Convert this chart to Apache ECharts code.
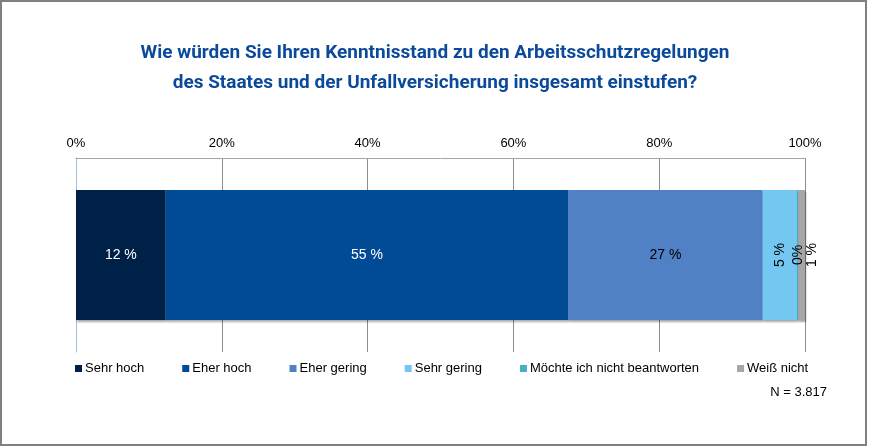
<!DOCTYPE html>
<html>
<head>
    <meta charset="UTF-8" />
    <title>Kenntnisstand</title>
    <script src="https://cdn.jsdelivr.net/npm/echarts@6/dist/echarts.min.js"></script>
    <style>
        html, body { margin: 0; padding: 0; background: #fff; }
        #main { width: 870px; height: 447px; }
    </style>
</head>
<body>
    <div id="main"></div>
    <script>
    var categories = ['Gesamt'];
    var seriesNames = ['Sehr hoch', 'Eher hoch', 'Eher gering', 'Sehr gering', 'Möchte ich nicht beantworten', 'Weiß nicht'];
    var seriesValues = [12.3, 55.2, 26.7, 4.7, 0.2, 0.9];
    var labelTexts = ['12 %', '55 %', '27 %', '5 %', '0%', '1 %'];
    var colors = ['#002147', '#004A96', '#4F81C4', '#74C7F0', '#4BACC6', '#A6A6A6'];
    var labelColors = ['#ffffff', '#ffffff', '#000000', '#000000', '#000000', '#000000'];
    var tickLabels = ['0%', '20%', '40%', '60%', '80%', '100%'];

    var font = '"Liberation Sans", Arial, sans-serif';
    var myChart = echarts.init(document.getElementById('main'));

    var mySeries = [];
    for (var i = 0; i < seriesNames.length; i++) {
        var small = seriesValues[i] < 8;
        var lbl = {
            show: true,
            formatter: labelTexts[i],
            color: labelColors[i],
            fontFamily: font,
            fontSize: 14,
            position: 'inside',
            rotate: small ? 90 : 0
        };
        if (i == seriesNames.length - 1) {
            // last segment label sits just right of the bar
            lbl.position = 'right';
            lbl.distance = 7;
            lbl.align = 'center';
            lbl.verticalAlign = 'middle';
        }
        mySeries.push({
            name: seriesNames[i],
            type: 'bar',
            stack: 'total',
            barWidth: '67%',
            data: [seriesValues[i]],
            itemStyle: {
                color: colors[i],
                shadowColor: 'rgba(0,0,0,0.35)',
                shadowBlur: 2,
                shadowOffsetX: 1,
                shadowOffsetY: 2
            },
            label: lbl
        });
    }

    myChart.setOption({
        animation: false,
        color: colors,
        title: {
            text: 'Wie würden Sie Ihren Kenntnisstand zu den Arbeitsschutzregelungen\ndes Staates und der Unfallversicherung insgesamt einstufen?',
            left: 'center',
            top: 33,
            textStyle: {
                color: '#0B4A9A',
                fontFamily: 'Roboto',
                fontWeight: 'bold',
                fontSize: 19,
                lineHeight: 30
            }
        },
        grid: {
            left: 76,
            right: 65,
            top: 158,
            bottom: 95
        },
        legend: {
            data: seriesNames,
            left: 75,
            top: 362,
            padding: 0,
            itemWidth: 7,
            itemHeight: 7,
            itemGap: 38,
            icon: 'rect',
            textStyle: {
                color: '#000',
                fontFamily: font,
                fontSize: 13,
                padding: [0, 0, 0, -2]
            }
        },
        xAxis: {
            type: 'value',
            position: 'top',
            min: 0,
            max: 100,
            interval: 20,
            axisLine: { show: true, lineStyle: { color: '#A6A6A6', width: 1 } },
            axisTick: { show: false },
            axisLabel: {
                margin: 8,
                color: '#000',
                fontFamily: font,
                fontSize: 13,
                formatter: function(v) { return tickLabels[v / 20]; }
            },
            splitLine: { show: true, lineStyle: { color: '#8C8C8C', width: 1 } }
        },
        yAxis: {
            type: 'category',
            data: categories,
            inverse: true,
            axisLine: { show: true, lineStyle: { color: '#A9B8E6', width: 1 } },
            axisTick: { show: false },
            axisLabel: { show: false }
        },
        series: mySeries,
        graphic: [
            {
                type: 'rect',
                shape: { x: 1, y: 1, width: 865, height: 444 },
                style: { fill: 'none', stroke: '#808080', lineWidth: 2 },
                silent: true
            },
            {
                type: 'text',
                right: 43,
                top: 386,
                style: {
                    text: 'N = 3.817',
                    fill: '#000',
                    font: '13px ' + font
                }
            }
        ]
    });
    </script>
</body>
</html>
